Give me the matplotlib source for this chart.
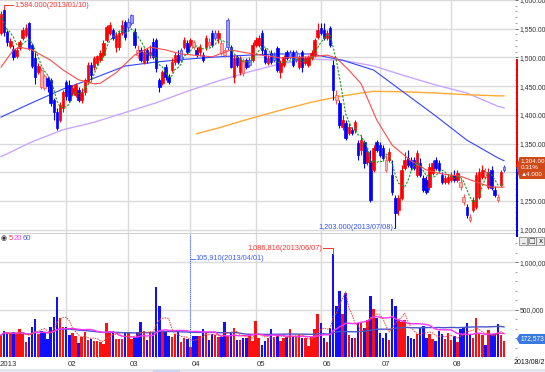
import numpy as np
import pandas as pd
import matplotlib
matplotlib.use("Agg")
import matplotlib.pyplot as plt
from matplotlib.patches import Rectangle, Polygon
from matplotlib.ticker import MultipleLocator, FixedLocator, FuncFormatter, NullFormatter

FONT = ["Liberation Sans", "DejaVu Sans"]
plt.rcParams["font.family"] = FONT

# ---------------- data (daily candles, 2013-01 .. 2013-08) ----------------
opens = [1543, 1583, 1544, 1520, 1515, 1502, 1516, 1534, 1539, 1560,
         1522, 1499, 1475, 1448, 1447, 1464, 1461, 1426, 1405, 1391,
         1412, 1457, 1452, 1438, 1434, 1443, 1426, 1440, 1457, 1487,
         1483, 1490, 1495, 1504, 1530, 1543, 1548, 1518, 1518, 1543,
         1562, 1562, 1574, 1544, 1504, 1513, 1492, 1513, 1504, 1527,
         1530, 1461, 1455, 1483, 1466, 1478, 1492, 1504,
         1513, 1518, 1525, 1522, 1518, 1513, 1509, 1504, 1518, 1522,
         1543, 1543, 1534, 1508, 1504, 1565, 1518, 1466, 1501, 1475,
         1473, 1495, 1495, 1495, 1522, 1522, 1543, 1513, 1490, 1508,
         1504, 1516, 1475, 1487, 1509, 1509, 1509, 1509, 1483, 1509,
         1490, 1487, 1499, 1504, 1536, 1551, 1548, 1534, 1551, 1487,
         1426, 1421, 1379, 1386, 1368, 1374, 1374, 1351,
         1339, 1353, 1318, 1318, 1304, 1353, 1347, 1342, 1304, 1321,
         1295, 1255, 1234, 1255, 1307, 1325, 1321, 1321, 1295, 1316,
         1290, 1286, 1274, 1299, 1321, 1316, 1295, 1283, 1283, 1286,
         1295, 1286, 1274, 1248, 1239, 1217, 1234, 1239, 1257, 1292,
         1292, 1274, 1304, 1269, 1252, 1278, 1309]
highs = [1580, 1584, 1548, 1534, 1522, 1518, 1530, 1553, 1558, 1562,
         1525, 1509, 1490, 1482, 1471, 1468, 1464, 1429, 1412, 1422,
         1443, 1461, 1461, 1452, 1455, 1448, 1447, 1464, 1492, 1492,
         1502, 1504, 1513, 1530, 1556, 1562, 1551, 1544, 1548, 1565,
         1565, 1569, 1576, 1551, 1522, 1518, 1516, 1516, 1522, 1534,
         1534, 1464, 1478, 1488, 1471, 1499, 1509, 1513,
         1516, 1536, 1530, 1534, 1530, 1518, 1523, 1509, 1539, 1534,
         1548, 1548, 1548, 1530, 1518, 1569, 1522, 1504, 1504, 1502,
         1499, 1499, 1501, 1527, 1536, 1539, 1548, 1516, 1504, 1513,
         1509, 1520, 1495, 1504, 1513, 1513, 1513, 1513, 1504, 1513,
         1502, 1504, 1513, 1534, 1560, 1560, 1560, 1548, 1555, 1495,
         1443, 1426, 1400, 1391, 1386, 1379, 1391, 1356,
         1365, 1356, 1342, 1339, 1347, 1356, 1353, 1347, 1330, 1342,
         1321, 1260, 1260, 1313, 1335, 1339, 1326, 1326, 1339, 1325,
         1295, 1293, 1316, 1321, 1326, 1321, 1300, 1295, 1297, 1300,
         1304, 1304, 1290, 1262, 1245, 1227, 1257, 1300, 1307, 1313,
         1307, 1307, 1311, 1276, 1262, 1304, 1312]
lows = [1539, 1537, 1520, 1516, 1495, 1499, 1513, 1530, 1536, 1513,
        1482, 1454, 1471, 1445, 1443, 1440, 1415, 1391, 1374, 1387,
        1405, 1426, 1422, 1434, 1431, 1422, 1421, 1434, 1454, 1461,
        1478, 1487, 1492, 1501, 1527, 1539, 1530, 1509, 1513, 1539,
        1530, 1548, 1556, 1516, 1499, 1492, 1488, 1490, 1499, 1497,
        1475, 1440, 1452, 1461, 1454, 1475, 1487, 1488,
        1492, 1515, 1506, 1518, 1515, 1501, 1502, 1492, 1513, 1518,
        1518, 1530, 1525, 1504, 1501, 1513, 1482, 1455, 1483, 1469,
        1468, 1480, 1483, 1492, 1518, 1518, 1504, 1488, 1487, 1488,
        1492, 1475, 1464, 1483, 1495, 1497, 1483, 1492, 1480, 1475,
        1487, 1483, 1495, 1501, 1532, 1539, 1530, 1530, 1518, 1426,
        1419, 1377, 1374, 1356, 1365, 1365, 1368, 1321,
        1330, 1307, 1313, 1248, 1300, 1335, 1326, 1321, 1300, 1318,
        1260, 1203, 1225, 1252, 1304, 1309, 1304, 1304, 1292, 1292,
        1265, 1262, 1269, 1295, 1304, 1300, 1279, 1279, 1279, 1283,
        1283, 1283, 1269, 1243, 1220, 1213, 1231, 1236, 1253, 1288,
        1288, 1271, 1269, 1257, 1248, 1274, 1300]
closes = [1575, 1544, 1527, 1529, 1501, 1513, 1527, 1548, 1551, 1516,
          1485, 1466, 1485, 1478, 1468, 1450, 1421, 1405, 1377, 1417,
          1440, 1433, 1426, 1447, 1452, 1426, 1440, 1461, 1487, 1469,
          1499, 1502, 1508, 1525, 1553, 1556, 1534, 1539, 1543, 1556,
          1536, 1553, 1560, 1522, 1513, 1495, 1509, 1495, 1509, 1501,
          1482, 1448, 1475, 1466, 1457, 1492, 1504, 1492,
          1495, 1530, 1509, 1530, 1527, 1504, 1518, 1495, 1534, 1527,
          1522, 1534, 1543, 1525, 1513, 1518, 1483, 1499, 1487, 1499,
          1495, 1483, 1487, 1522, 1530, 1534, 1513, 1492, 1499, 1492,
          1495, 1478, 1490, 1501, 1499, 1501, 1487, 1495, 1501, 1483,
          1499, 1501, 1508, 1530, 1548, 1543, 1534, 1543, 1522, 1443,
          1434, 1382, 1391, 1360, 1379, 1368, 1387, 1330,
          1356, 1316, 1335, 1252, 1342, 1339, 1330, 1325, 1321, 1335,
          1265, 1229, 1255, 1304, 1321, 1313, 1309, 1307, 1333, 1295,
          1269, 1265, 1309, 1316, 1307, 1304, 1283, 1290, 1292, 1295,
          1286, 1299, 1283, 1257, 1225, 1222, 1252, 1295, 1300, 1304,
          1300, 1300, 1272, 1260, 1257, 1300, 1304]
volumes_k = [230, 280, 250, 240, 260, 240, 300, 240, 160, 210,
             320, 400, 240, 280, 260, 190, 320, 420, 630, 410,
             320, 320, 230, 250, 220, 145, 210, 260, 180, 190,
             165, 165, 160, 140, 360, 250, 270, 190, 190, 190,
             250, 260, 190, 210, 260, 370, 270, 180, 260, 250,
             735, 540, 270, 270, 220, 210, 240, 260,
             161, 196, 186, 105.910, 220, 220, 220, 294, 266, 178,
             241, 231, 213, 213, 371, 220, 266, 311, 178, 178,
             206, 206, 248, 171, 381, 206, 126, 171, 206, 294,
             213, 220, 171, 196, 213, 294, 213, 213, 231, 206,
             196, 115, 213, 294, 458, 360, 206, 161, 311, 1086.816,
             535, 696, 458, 675, 231, 206, 206, 360,
             360, 311, 396, 640, 511, 417, 255, 206, 255, 178,
             616, 535, 396, 371, 396, 220, 196, 186, 241, 311,
             325, 206, 241, 186, 171, 276, 241, 186, 255, 178,
             220, 161, 294, 318, 360, 231, 206, 417, 248, 231,
             126, 283, 241, 241, 346, 231, 172.573]

month_start_idx = [21, 41, 61, 82, 103, 122, 145]
month_labels = ["02", "03", "04", "05", "06", "07", "08"]
year_label = "2013"
last_date_label = "2013/08/27"

# moving-average lines (index, price)
ma_red_idx = [0, 4, 6, 10, 16, 20, 25, 30, 32, 37, 43, 48, 53, 58, 68, 74, 79, 90,
              100, 105, 108, 112, 116, 121, 126, 132, 137, 142, 148, 153, 158, 162]
ma_red_val = [1483, 1513, 1518, 1513, 1495, 1478, 1461, 1454, 1455, 1473, 1504, 1518,
              1513, 1506, 1501, 1513, 1508, 1499, 1501, 1504, 1499, 1478, 1454, 1391,
              1347, 1320, 1304, 1297, 1293, 1283, 1274, 1274]
ma_blue_idx = [0, 10, 20, 30, 40, 50, 60, 70, 80, 90, 100, 110, 120, 130, 140, 150, 160, 162]
ma_blue_val = [1396, 1421, 1445, 1464, 1485, 1492, 1497, 1501, 1504, 1506, 1506, 1495,
               1478, 1438, 1398, 1356, 1325, 1320]
ma_lav_idx = [0, 10, 20, 30, 40, 50, 60, 70, 80, 90, 100, 110, 120, 130, 140, 150, 160, 162]
ma_lav_val = [1327, 1353, 1374, 1387, 1404, 1421, 1441, 1459, 1475, 1489, 1497, 1495,
              1485, 1468, 1452, 1438, 1415, 1412]
ma_org_idx = [63, 70, 80, 90, 100, 110, 120, 130, 140, 150, 160, 162]
ma_org_val = [1367, 1377, 1393, 1408, 1422, 1433, 1441, 1440, 1438, 1435, 1433, 1433]

high_label = "1,584.000(2013/01/10)"
low_label = "1,203.000(2013/07/08)"
vmax_label = "1,086,816(2013/06/07)"
vmin_label = "105,910(2013/04/01)"
last_price = 1304
last_price_lines = ["1,304.00", "0.31%", "\u25b24.000"]
last_volume_label = "172,573"

# ---------------- layout ----------------
W, H = 545, 372
STEP = 3.105
X0 = 1.0
PPX = 50 / 28.7      # price per pixel
VPX = 500 / 47.3     # thousand shares per pixel

fig = plt.figure(figsize=(W / 100, H / 100), dpi=100)
fig.patch.set_facecolor("white")


def rect(x0, y0, x1, y1):
    return [x0 / W, 1 - y1 / H, (x1 - x0) / W, (y1 - y0) / H]


def ftext(x, y, s, **kw):
    kw.setdefault("fontsize", 5.5)
    kw.setdefault("va", "center")
    return fig.text(x / W, 1 - y / H, s, **kw)


def frect(x0, y0, x1, y1, **kw):
    r = Rectangle((x0 / W, 1 - y1 / H), (x1 - x0) / W, (y1 - y0) / H,
                  transform=fig.transFigure, **kw)
    fig.patches.append(r)
    return r


def fpoly(pts, **kw):
    p = Polygon([(x / W, 1 - y / H) for x, y in pts], closed=True,
                transform=fig.transFigure, **kw)
    fig.patches.append(p)
    return p


axp = fig.add_axes(rect(0, 0, 515, 233))
axv = fig.add_axes(rect(0, 234, 515, 357))

xl = ((0 - X0) / STEP, (515 - X0) / STEP)
axp.set_xlim(*xl)
axp.set_ylim(1600 - 233 * PPX, 1600)
axv.set_xlim(*xl)
axv.set_ylim(0, (357 - 234) * VPX)

for ax in (axp, axv):
    for s in ax.spines.values():
        s.set_visible(False)
    ax.set_facecolor("white")
    ax.xaxis.set_major_locator(FixedLocator([]))

GRID = "#dadada"
for ax in (axp, axv):
    for m in month_start_idx:
        ax.axvline(m, color=GRID, lw=1.0, zorder=0)
for p in np.arange(1200, 1601, 50):
    axp.axhline(p, color=GRID, lw=1.0, zorder=0)
for v in (500, 1000):
    axv.axhline(v, color=GRID, lw=1.0, zorder=0)

# ---------------- candles ----------------
O = np.array(opens, float)
Hh = np.array(highs, float)
L = np.array(lows, float)
C = np.array(closes, float)
V = np.array(volumes_k, float)
N = len(C)
idx = np.arange(N)
prevC = np.r_[O[0], C[:-1]]
up = C >= O
cup = C >= prevC

face = []
edge = []
for u, cu in zip(up, cup):
    if u and cu:
        face.append("#ff0000"); edge.append("#ff0000")
    elif u:
        face.append("#ffb0b0"); edge.append("#ff5050")
    elif not cu:
        face.append("#0000ff"); edge.append("#0000ff")
    else:
        face.append("#9a9aff"); edge.append("#4040ff")

axp.vlines(idx, L, Hh, colors=edge, linewidth=0.8, zorder=3)
axp.bar(idx, np.maximum(np.abs(C - O), 1.0), bottom=np.minimum(O, C), width=0.8,
        color=face, edgecolor=edge, linewidth=0.5, zorder=4)

# moving averages
ma5 = pd.Series(C).rolling(5, min_periods=1).mean()
axp.plot(ma_lav_idx, ma_lav_val, color="#c9a6ff", lw=1.0, zorder=2)
axp.plot(ma_org_idx, ma_org_val, color="#ffaa33", lw=1.0, zorder=2)
axp.plot(ma_blue_idx, ma_blue_val, color="#3344ff", lw=0.8, zorder=2)
axp.plot(ma_red_idx, ma_red_val, color="#ff4a4a", lw=0.8, zorder=5)
axp.plot(idx, ma5, color="#1a9a1a", lw=0.8, ls=(0, (2.0, 1.3)), zorder=6)

# high / low annotations
hi_i = int(np.argmax(Hh))
lo_i = int(np.argmin(L))
y_hi = 1600 - 5 * PPX
axp.plot([hi_i, hi_i, (13 - X0) / STEP], [Hh[hi_i], y_hi, y_hi], color="#ff3030", lw=0.7,
         zorder=7, clip_on=False)
axp.text((14 - X0) / STEP, y_hi, high_label, color="#ff3030", fontsize=5.3,
         va="center", ha="left", zorder=7)
axp.plot([(394 - X0) / STEP, lo_i], [L[lo_i], L[lo_i]], color="#3050ff", lw=0.7, zorder=7)
axp.text((393 - X0) / STEP, L[lo_i], low_label, color="#3050ff", fontsize=5.3,
         va="center", ha="right", zorder=7)

# right price axis (the tick label under the last-price tag is hidden by the tag)
axp.yaxis.tick_right()
axp.set_yticks(np.arange(1200, 1601, 50))
axp.yaxis.set_major_formatter(
    FuncFormatter(lambda v, p: "" if abs(v - 1300) < 1e-6 else f"{v:,.2f}"))
axp.yaxis.set_minor_locator(MultipleLocator(10))
axp.tick_params(axis="y", which="major", direction="out", length=2.5, width=0.6,
                color="#555555", labelsize=4.9, labelcolor="#333333", pad=1.0)
axp.tick_params(axis="y", which="minor", direction="out", length=1.5, width=0.5,
                color="#777777")

# ---------------- volume ----------------
vcol = ["#ff1010" if cu else "#1010ff" for cu in cup]
axv.bar(idx, V, width=0.8, color=vcol, linewidth=0, zorder=3)
v5 = pd.Series(V).rolling(5, min_periods=1).mean()
v20 = pd.Series(V).rolling(20, min_periods=1).mean()
v60 = pd.Series(V).rolling(60, min_periods=1).mean()
axv.plot(idx, v60, color="#4655c8", lw=1.0, zorder=4)
axv.plot(idx, v20, color="#ff33ff", lw=1.0, zorder=5)
axv.plot(idx, v5, color="#ff4040", lw=0.7, ls=(0, (1.6, 1.0)), zorder=6)

vmax_i = int(np.argmax(V))
vmin_i = int(np.argmin(V))
y_vmax = (357 - 248) * VPX
axv.plot([(323 - X0) / STEP, vmax_i, vmax_i], [y_vmax, y_vmax, V[vmax_i]], color="#ff3030",
         lw=0.7, zorder=7)
axv.text((322 - X0) / STEP, y_vmax, vmax_label, color="#ff3030", fontsize=5.3,
         va="center", ha="right", zorder=7)
y_vmin = (357 - 259) * VPX
axv.plot([vmin_i, vmin_i], [V[vmin_i], axv.get_ylim()[1]], color="#4060ff", lw=0.7,
         ls=(0, (1, 1)), zorder=7)
axv.plot([vmin_i, (195 - X0) / STEP], [y_vmin, y_vmin], color="#4060ff", lw=0.6, zorder=7)
axv.text((195.5 - X0) / STEP, y_vmin, vmin_label, color="#4060ff", fontsize=5.3,
         va="center", ha="left", zorder=7)

axv.yaxis.tick_right()
axv.set_yticks([500, 1000])
axv.yaxis.set_major_formatter(FuncFormatter(lambda v, p: f"{int(v * 1000):,}"))
axv.yaxis.set_minor_locator(MultipleLocator(100))
axv.tick_params(axis="y", which="major", direction="out", length=2.5, width=0.6,
                color="#555555", labelsize=4.9, labelcolor="#333333", pad=1.0)
axv.tick_params(axis="y", which="minor", direction="out", length=1.5, width=0.5,
                color="#777777")
mid_month = [12, 31, 50, 71, 93, 113, 133, 155]
axv.xaxis.set_minor_locator(FixedLocator(mid_month))
axv.xaxis.set_minor_formatter(NullFormatter())
axv.tick_params(axis="x", which="minor", direction="in", length=3, width=0.6,
                color="#555555", bottom=True)

# ---------------- decorations ----------------
# panel separator
frect(0, 233.3, 515, 234.0, facecolor="#cfcfcf", edgecolor="none", zorder=8)

# range bar on the price axis
frect(516.2, 59, 518.4, 167, facecolor="#ff0000", edgecolor="none", zorder=9)
frect(516.2, 167, 518.4, 237, facecolor="#0000ff", edgecolor="none", zorder=9)

# last price tag
fpoly([(516.5, 168), (519.5, 157), (545, 157), (545, 179), (519.5, 179)],
      facecolor="#cf4a18", edgecolor="none", zorder=10)
for k, s in enumerate(last_price_lines):
    ftext(520.5, 160.8 + 7.0 * k, s, color="white", fontsize=4.5, ha="left", zorder=11,
          family=["Liberation Sans", "DejaVu Sans"])

# last volume tag
fpoly([(516.5, 339), (519.5, 334), (545, 334), (545, 344), (519.5, 344)],
      facecolor="#3a7ae0", edgecolor="none", zorder=10)
ftext(521, 339, last_volume_label, color="white", fontsize=4.8, ha="left", zorder=11)

# window buttons
for k, g in enumerate(["_", "\u25a1", "x"]):
    x0 = 519 + 8.7 * k
    frect(x0, 237, x0 + 8, 245, facecolor="#ececec", edgecolor="#7a7a7a", lw=0.5, zorder=10)
    ftext(x0 + 4, 240.8, g, fontsize=5, ha="center", color="#222222", zorder=11,
          family=["DejaVu Sans"])

# volume legend
ftext(0.5, 238.5, "\u25c9", fontsize=5, ha="left", color="#333333", family=["DejaVu Sans"])
ftext(9, 238.5, "5", color="#ff3030", ha="left")
ftext(14, 238.5, "20", color="#ff40ff", ha="left")
ftext(23, 238.5, "60", color="#5060d0", ha="left")

# date labels
ftext(0, 364, year_label, ha="left", color="#333333", fontsize=5.6)
for m, lab in zip(month_start_idx, month_labels):
    ftext(X0 + STEP * m + 1.5, 364, lab, ha="left", color="#333333", fontsize=5.6)
ftext(514, 363, last_date_label, ha="left", color="#111111", fontsize=5.0)

# scrollbar strip
frect(0, 369, 545, 372, facecolor="#e4e8ee", edgecolor="none", zorder=8)
frect(153, 369.5, 180, 372, facecolor="#c7d7f0", edgecolor="none", zorder=9)

fig.savefig("out.png", dpi=100, facecolor="white")
